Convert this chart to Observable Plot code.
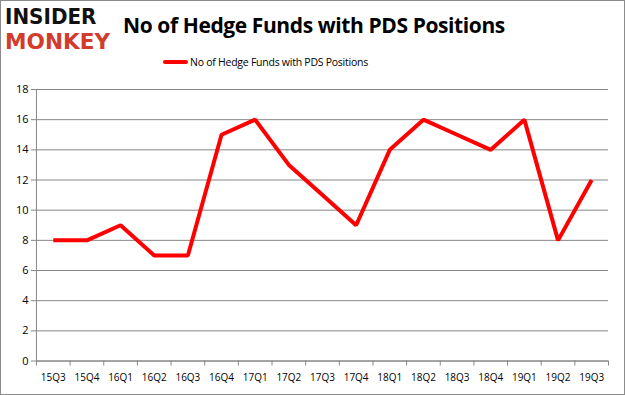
<!DOCTYPE html>
<html><head><meta charset="utf-8">
<script src="https://cdn.jsdelivr.net/npm/d3@7"></script>
<script src="https://cdn.jsdelivr.net/npm/@observablehq/plot@0.6"></script>
<style>
html,body{margin:0;padding:0;background:#fff;}
#frame{position:relative;width:625px;height:395px;box-sizing:border-box;border:1px solid #8c8c8c;overflow:hidden;background:#fff;}
#header{position:absolute;left:0;top:0;width:625px;height:80px;}
.logo{position:absolute;left:4px;font-family:"DejaVu Sans";font-weight:900;font-size:21px;letter-spacing:0;line-height:normal;transform-origin:left;white-space:nowrap;}
#title{position:absolute;left:122px;top:10px;font-family:"Open Sans";font-weight:700;font-size:21px;color:#000;white-space:nowrap;letter-spacing:-0.4px;}
#legend{position:absolute;left:162px;top:54px;font-family:"Open Sans";font-size:10.5px;color:#000;white-space:nowrap;letter-spacing:-0.25px;}
#legend .sw{display:inline-block;width:25px;height:4px;background:#ff0000;vertical-align:middle;margin-right:2px;border-radius:2px;position:relative;top:-1px;}
#chart{position:absolute;left:-1px;top:79px;}
#chart svg{font-family:"Open Sans";}
</style></head>
<body>
<div id="frame">
  <div id="header">
    <div class="logo" style="top:4px;color:#111;transform:scaleX(0.95);">INSIDER</div>
    <div class="logo" style="top:29px;color:#d23c2a;transform:scaleX(1.03);">MONKEY</div>
    <div id="title">No of Hedge Funds with PDS Positions</div>
    <div id="legend"><span class="sw"></span>No of Hedge Funds with PDS Positions</div>
  </div>
  <div id="chart"></div>
</div>
<script>
const quarters = ["15Q3","15Q4","16Q1","16Q2","16Q3","16Q4","17Q1","17Q2","17Q3","17Q4","18Q1","18Q2","18Q3","18Q4","19Q1","19Q2","19Q3"];
const funds = [8,8,9,7,7,15,16,13,11,9,14,16,15,14,16,8,12];
const yTicks = [0,2,4,6,8,10,12,14,16,18];

const data = quarters.map((q,i)=>({i, q, v: funds[i]}));
const boundaries = d3.range(quarters.length + 1).map(i => i - 0.5);

const plot = Plot.plot({
  width: 625,
  height: 316,
  marginLeft: 36,
  marginRight: 16,
  marginTop: 9,
  marginBottom: 35,
  x: {type: "linear", domain: [-0.5, quarters.length - 0.5]},
  y: {domain: [0, 18]},
  marks: [
    Plot.gridY(yTicks, {stroke: "#868686", strokeOpacity: 1, strokeWidth: 1}),
    Plot.ruleX([-0.5], {stroke: "#868686"}),
    Plot.ruleY([0], {stroke: "#868686"}),
    Plot.axisY(yTicks, {tickSize: 5, tickPadding: 3, stroke: "#868686", fontSize: 11, color: "#000", fill: "#000", label: null}),
    Plot.axisX(boundaries, {tickSize: 5, tickFormat: () => "", stroke: "#868686", label: null}),
    Plot.axisX(d3.range(quarters.length), {tickSize: 0, tickPadding: 13, tickFormat: i => quarters[i], fontSize: 10, fill: "#000", label: null}),
    Plot.line(data, {x: "i", y: "v", stroke: "#ff0000", strokeWidth: 4, strokeLinejoin: "miter", strokeLinecap: "butt"})
  ]
});
document.getElementById("chart").appendChild(plot);
</script>
</body></html>
